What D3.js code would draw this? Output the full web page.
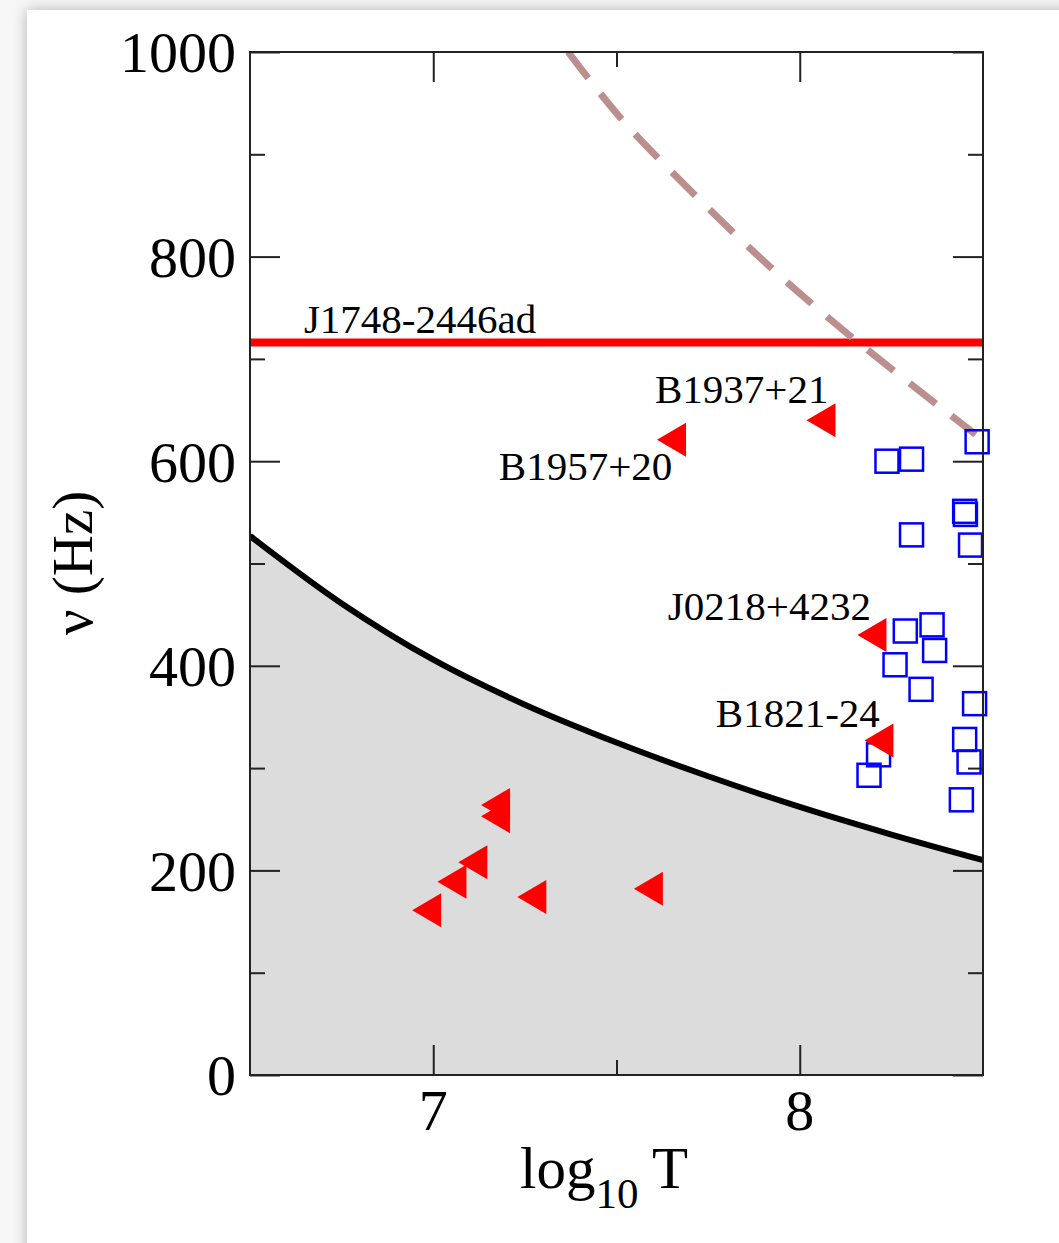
<!DOCTYPE html>
<html>
<head>
<meta charset="utf-8">
<script src="https://cdn.jsdelivr.net/npm/d3@7"></script>
<style>
  html, body { margin: 0; padding: 0; background: #f7f7f7; width: 1059px; height: 1243px; overflow: hidden; }
  #card { position: absolute; left: 27px; top: 10px; width: 1100px; height: 1300px; background: #fff;
          box-shadow: 0 0 14px rgba(0,0,0,0.28); }
  svg { position: absolute; left: 0; top: 0; }
  text { font-family: "Liberation Serif", "Times New Roman", serif; fill: #000; }
</style>
</head>
<body>
<div id="card"></div>
<svg id="chart" width="1059" height="1243"></svg>
<script>
// ---- data ----
const xTicksMajor = [7, 8];
const xTicksMinor = [7.5];
const yTicksMajor = [0, 200, 400, 600, 800, 1000];
const yTicksMinor = [100, 300, 500, 700, 900];

// shaded boundary curve: [log10 T, nu]
const boundaryLogT = [6.5, 6.75, 7.0, 7.25, 7.5, 7.75, 8.0, 8.25, 8.5];
const boundaryNu   = [527, 461, 406, 362, 325, 292, 262, 235, 210];

// dashed curve
const dashedLogT = [7.368, 7.51, 7.709, 7.919, 8.129, 8.48];
const dashedNu   = [1000, 936, 862, 790, 725, 626];

// J1748-2446ad line
const fastestNu = 716;

// red triangles (pulsars)
const triLogT = [8.058, 7.650, 8.197, 8.216, 7.170, 7.170, 7.108, 7.051, 6.982, 7.269, 7.587];
const triNu   = [640, 621, 430, 327, 264, 253, 208, 189, 161, 174, 182];

// blue squares
const sqLogT = [8.484, 8.238, 8.305, 8.450, 8.452, 8.305, 8.466, 8.288, 8.361, 8.368, 8.260, 8.331, 8.477, 8.215, 8.189, 8.450, 8.462, 8.441];
const sqNu   = [619, 600, 602, 551, 548, 528, 518, 434, 440, 415, 401, 377, 363, 313, 293, 328, 306, 269];

// labels
const labelText = ["J1748-2446ad", "B1937+21", "B1957+20", "J0218+4232", "B1821-24"];
const labelLogT = [6.647, 7.605, 7.179, 7.640, 7.771];
const labelNu   = [725, 657, 582, 445, 340];

// ---- layout ----
const L = 250, R = 983, T = 52, B = 1075;
const x = d3.scaleLinear().domain([6.5, 8.5]).range([L, R]);
const y = d3.scaleLinear().domain([0, 1000]).range([B, T]);

const svg = d3.select("#chart");
svg.append("defs").append("clipPath").attr("id", "clip")
  .append("rect").attr("x", L).attr("y", T).attr("width", R - L).attr("height", B - T);

const plot = svg.append("g").attr("clip-path", "url(#clip)");

const boundary = boundaryLogT.map((t, i) => [t, boundaryNu[i]]);
plot.append("path").datum(boundary)
  .attr("fill", "#dcdcdc")
  .attr("d", d3.area().x(d => x(d[0])).y0(y(0)).y1(d => y(d[1])).curve(d3.curveCatmullRom));
plot.append("path").datum(boundary)
  .attr("fill", "none").attr("stroke", "#000").attr("stroke-width", 6)
  .attr("d", d3.line().x(d => x(d[0])).y(d => y(d[1])).curve(d3.curveCatmullRom));

plot.append("line")
  .attr("x1", x(6.5)).attr("x2", x(8.5)).attr("y1", y(fastestNu)).attr("y2", y(fastestNu))
  .attr("stroke", "#ff0000").attr("stroke-width", 8);

const dashed = dashedLogT.map((t, i) => [t, dashedNu[i]]);
plot.append("path").datum(dashed)
  .attr("fill", "none").attr("stroke", "#bc8f8f").attr("stroke-width", 7)
  .attr("stroke-dasharray", "33,20")
  .attr("d", d3.line().x(d => x(d[0])).y(d => y(d[1])).curve(d3.curveCatmullRom));

// axes (inward ticks on all sides)
function axisG(axis, tx, ty) {
  const g = svg.append("g").attr("transform", `translate(${tx},${ty})`).call(axis);
  g.select(".domain").remove();
  g.selectAll(".tick line").attr("stroke", "#222").attr("stroke-width", 2);
  return g;
}
const none = () => "";
axisG(d3.axisBottom(x).tickValues(xTicksMajor).tickSize(-30).tickFormat(none), 0, B);
axisG(d3.axisBottom(x).tickValues(xTicksMinor).tickSize(-15).tickFormat(none), 0, B);
axisG(d3.axisTop(x).tickValues(xTicksMajor).tickSize(-30).tickFormat(none), 0, T);
axisG(d3.axisTop(x).tickValues(xTicksMinor).tickSize(-15).tickFormat(none), 0, T);
axisG(d3.axisLeft(y).tickValues(yTicksMajor).tickSize(-30).tickFormat(none), L, 0);
axisG(d3.axisLeft(y).tickValues(yTicksMinor).tickSize(-15).tickFormat(none), L, 0);
axisG(d3.axisRight(y).tickValues(yTicksMajor).tickSize(-30).tickFormat(none), R, 0);
axisG(d3.axisRight(y).tickValues(yTicksMinor).tickSize(-15).tickFormat(none), R, 0);

// blue squares
const sq = 23;
svg.append("g").selectAll("rect").data(sqLogT.map((t, i) => [t, sqNu[i]])).join("rect")
  .attr("x", d => x(d[0]) - sq / 2).attr("y", d => y(d[1]) - sq / 2)
  .attr("width", sq).attr("height", sq)
  .attr("fill", "none").attr("stroke", "#0000ff").attr("stroke-width", 2.5);

// red triangles (pointing left)
const tri = "M-14.5,0L14.5,-17L14.5,17Z";
svg.append("g").selectAll("path").data(triLogT.map((t, i) => [t, triNu[i]])).join("path")
  .attr("transform", d => `translate(${x(d[0])},${y(d[1])})`)
  .attr("d", tri).attr("fill", "#ff0000");

// frame
svg.append("rect").attr("x", L).attr("y", T).attr("width", R - L).attr("height", B - T)
  .attr("fill", "none").attr("stroke", "#222").attr("stroke-width", 2);

// annotations
svg.append("g").selectAll("text").data(labelText).join("text")
  .attr("x", (d, i) => x(labelLogT[i])).attr("y", (d, i) => y(labelNu[i]))
  .attr("font-size", 41).text(d => d);

// tick labels
svg.append("g").selectAll("text").data(yTicksMajor).join("text")
  .attr("x", L - 14).attr("y", d => y(d)).attr("dy", "0.35em")
  .attr("text-anchor", "end").attr("font-size", 58).text(d => d);
svg.append("g").selectAll("text").data(xTicksMajor).join("text")
  .attr("x", d => x(d)).attr("y", B + 55)
  .attr("text-anchor", "middle").attr("font-size", 58).text(d => d);

// axis titles
const xt = svg.append("text").attr("x", 520).attr("y", 1188).attr("font-size", 59);
xt.append("tspan").text("log");
xt.append("tspan").attr("font-size", 43).attr("dy", 20).text("10");
xt.append("tspan").attr("dy", -20).text(" T");

svg.append("text").attr("transform", "translate(92,563) rotate(-90)")
  .attr("text-anchor", "middle").attr("font-size", 57).text("ν (Hz)");
</script>
</body>
</html>
